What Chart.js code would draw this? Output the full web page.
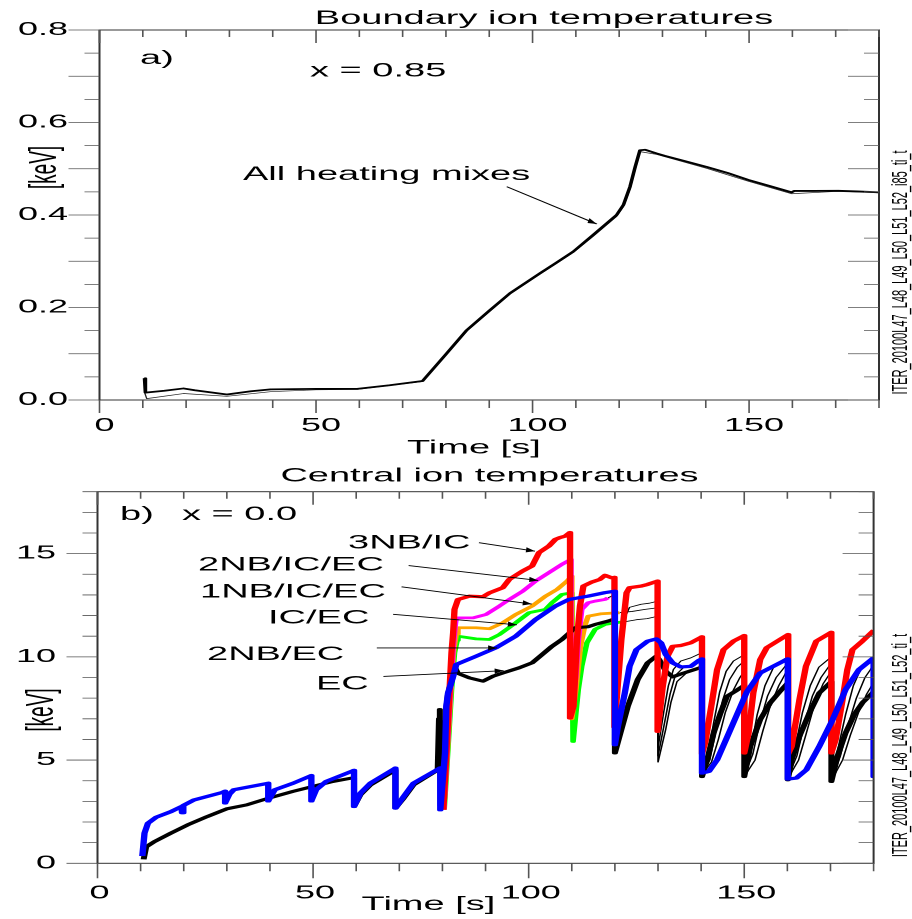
<!DOCTYPE html>
<html>
<head>
<meta charset="utf-8">
<title>Ion temperatures</title>
<script src="https://cdn.jsdelivr.net/npm/chart.js@4.4.1/dist/chart.umd.min.js"></script>
<style>
  html, body { margin: 0; padding: 0; background: #fff; overflow: hidden; }
  /* panels are laid out at half width and widened 2x, which gives the broad plotter lettering */
  #page { width: 456px; height: 919px; transform: scaleX(2); transform-origin: 0 0; }
  canvas { display: block; }
</style>
</head>
<body>
<div id="page">
  <canvas id="edgeChart" width="456" height="460"></canvas>
  <canvas id="coreChart" width="456" height="459"></canvas>
</div>
<script>
const FONT = "'Liberation Sans', Arial, Helvetica, sans-serif";
Chart.defaults.font.family = FONT;
Chart.defaults.color = "#000";

const timeLabels = [0, 50, 100, 150];

// a) boundary ion temperature, x = 0.85
const edgeYLabels = [0, 0.2, 0.4, 0.6, 0.8];
const edgeTime = [10.4, 10.6, 15, 19.4, 22, 29.4, 35, 39.5, 50, 59.5, 67, 74.6, 80, 84.8, 90, 94.8, 101.7, 105.5,
  109.4, 114.0, 119.4, 121.0, 122.5, 123.7, 124.8, 126, 128.7, 130.5, 135, 140.2, 145, 149.8, 155, 159.8, 160.4,
  165, 170.6, 175, 180];
const edgeTemp = [0.047, 0.016, 0.020, 0.025, 0.021, 0.012, 0.019, 0.023, 0.024, 0.024, 0.032, 0.041, 0.099, 0.151, 0.193, 0.231, 0.274, 0.297,
  0.321, 0.357, 0.400, 0.422, 0.461, 0.504, 0.540, 0.541, 0.533, 0.528, 0.517, 0.504, 0.491, 0.476, 0.462, 0.449, 0.452,
  0.452, 0.4525, 0.451, 0.449];
const edgeTimeAlt = [10.4, 10.5, 10.9, 19.4, 29.4, 39.5, 50, 59.5, 74.6, 80, 84.8, 90, 94.8, 101.7, 105.5, 109.4,
  114.0, 119.4, 121.0, 122.5, 123.7, 124.8, 128.7, 140.2, 149.8, 159.8, 170, 180];
const edgeTempAlt = [0.047, 0.014, 0.003, 0.014, 0.008, 0.018, 0.022, 0.023, 0.040, 0.098, 0.149, 0.191, 0.229, 0.272, 0.295, 0.319,
  0.354, 0.397, 0.419, 0.457, 0.500, 0.537, 0.531, 0.501, 0.473, 0.446, 0.451, 0.448];

// b) central ion temperature, x = 0.0
const coreYLabels = [0, 5, 10, 15];

// 2NB/EC
const nbEcTime = [10.4, 10.9, 11.7, 13.6, 17.0, 19.5, 19.6, 19.9, 22.4, 28.9,
  29.6, 29.6, 30.6, 31.6, 39.6, 39.6, 41.1, 45.4, 49.6, 49.6,
  50.7, 53.0, 59.5, 59.5, 61.0, 63.3, 69.1, 69.1, 71.0, 73.3,
  79.5, 79.5, 80.6, 80.9, 81.3, 82.5, 83.2, 87.8, 92.4, 97.0,
  101.6, 106.2, 109.3, 113.8, 117.7, 120.0, 120.0, 120.7, 122.3, 123.4,
  125.0, 127.6, 129.6, 130.7, 131.8, 133.4, 135.3, 137.6, 139.5, 140.2,
  140.2, 141.8, 143.7, 146.0, 148.3, 150.6, 153.7, 156.7, 160.1, 160.1,
  162.1, 164.4, 167.4, 170.5, 173.5, 176.6, 180.0, 180.0];
const nbEcTemp = [0.35, 1.46, 1.94, 2.23, 2.50, 2.75, 2.45, 2.80, 3.07, 3.43,
  3.49, 2.92, 3.35, 3.56, 3.88, 3.02, 3.56, 3.88, 4.25, 3.02,
  3.56, 3.96, 4.50, 2.75, 3.40, 3.88, 4.61, 2.67, 3.23, 3.88,
  4.62, 2.59, 5.34, 7.60, 8.25, 9.06, 9.63, 10.03, 10.44, 11.00,
  11.81, 12.46, 12.78, 12.94, 13.11, 13.18, 5.74, 6.63, 8.25, 9.54,
  10.35, 10.76, 10.87, 10.68, 10.11, 9.71, 9.51, 9.54, 9.83, 9.90,
  4.37, 4.45, 5.01, 6.10, 7.20, 8.30, 9.22, 9.54, 9.90, 4.08,
  4.13, 4.53, 5.66, 6.96, 8.41, 9.38, 9.95, 4.20];

// 3NB/IC
const nbIcTime = [80.2, 80.9, 81.7, 82.1, 82.5, 82.8, 83.6, 86.3, 89.4, 90.9,
  94.0, 95.5, 97.0, 98.6, 100.8, 102.4, 104.7, 106.2, 107.3, 108.5,
  109.6, 109.6, 110.4, 111.2, 111.9, 112.7, 114.6, 116.5, 117.7, 119.2,
  119.9, 119.9, 121.5, 122.7, 123.4, 126.1, 127.6, 129.9, 129.9, 131.1,
  132.2, 133.4, 135.3, 137.6, 140.2, 140.2, 141.0, 142.6, 143.7, 145.2,
  147.5, 150.0, 150.0, 151.0, 152.1, 153.7, 155.2, 158.3, 160.2, 160.2,
  161.0, 162.8, 164.3, 166.7, 170.2, 170.2, 171.2, 172.8, 173.9, 175.1,
  177.4, 180.1, 180.1];
const nbIcTemp = [2.59, 5.34, 8.57, 10.19, 11.2, 12.30, 12.78, 12.94, 12.91, 13.10,
  13.35, 13.75, 13.95, 14.16, 14.40, 15.05, 15.37, 15.69, 15.78, 15.85,
  16.02, 7.04, 7.6, 10.84, 12.46, 13.43, 13.62, 13.75, 13.95, 13.83,
  13.85, 6.6, 10.84, 13.10, 13.35, 13.43, 13.51, 13.67, 6.39, 8.57,
  10.03, 10.51, 10.55, 10.68, 10.97, 5.3, 5.9, 7.93, 9.38, 10.35,
  10.76, 11.03, 5.34, 6.31, 8.25, 9.87, 10.44, 10.84, 11.08, 5.3,
  5.66, 7.93, 9.54, 10.76, 11.19, 5.34, 5.99, 7.93, 9.38, 10.35,
  10.76, 11.29, 5.34];

// EC
const ecTime = [10.7, 11.3, 13.2, 17.0, 20.9, 25.4, 30.0, 34.6, 39.6, 45.3,
  49.9, 54.5, 59.5, 59.5, 61.0, 63.3, 69.1, 69.1, 71.0, 73.3,
  78.9, 79.2, 79.4, 79.6, 80.6, 80.9, 81.3, 82.3, 83.0, 83.6,
  86.3, 89.4, 91.7, 94.0, 97.8, 100.8, 103.1, 105.4, 107.7, 110.8,
  113.8, 115.4, 118.4, 120.0, 120.0, 121.5, 123.0, 125.3, 127.6, 129.6,
  130.3, 131.8, 133.4, 136.0, 140.2, 140.2, 141.4, 142.9, 144.5, 146.0,
  147.9, 150.0, 150.0, 151.4, 153.7, 156.0, 158.3, 160.1, 160.1, 161.0,
  162.8, 165.1, 167.4, 170.2, 170.2, 171.6, 173.5, 175.5, 177.5, 180.0];
const ecTemp = [0.19, 0.80, 1.05, 1.46, 1.86, 2.26, 2.64, 2.83, 3.15, 3.48,
  3.72, 3.96, 4.15, 2.75, 3.32, 3.80, 4.52, 2.67, 3.15, 3.80,
  4.52, 7.0, 7.45, 2.8, 5.3, 7.5, 8.2, 9.0, 9.45, 9.2,
  8.98, 8.82, 9.06, 9.22, 9.47, 9.71, 10.11, 10.51, 10.84, 11.41,
  11.46, 11.57, 11.73, 11.84, 5.34, 6.47, 7.60, 8.90, 9.71, 10.03,
  9.87, 9.30, 9.03, 9.22, 9.5, 4.2, 5.01, 6.31, 7.28, 8.09,
  8.33, 8.62, 4.2, 5.66, 6.96, 7.77, 8.33, 8.74, 4.04, 5.01,
  6.15, 7.28, 8.25, 8.8, 3.96, 5.17, 6.31, 7.2, 7.8, 8.3];

// 2NB/IC/EC
const nb2IcEcTime = [80.3, 81.0, 81.9, 82.5, 83.0, 83.2, 87.1, 90.1, 93.2, 95.5, 98.6, 101.6,
  104.7, 107.7, 109.8, 109.8, 110.9, 111.5, 112.3, 113.8, 115.4, 117.7, 118.4];
const nb2IcEcTemp = [2.6, 5.3, 8.6, 10.5, 11.6, 11.89, 11.89, 12.05, 12.46, 12.78, 13.18, 13.67,
  14.08, 14.48, 14.72, 7.2, 9.0, 10.8, 12.3, 12.62, 12.70, 12.78, 12.86];

// 1NB/IC/EC
const nb1IcEcTime = [80.3, 81.1, 82.0, 82.6, 83.2, 83.6, 87.8, 90.9, 94.0, 97.0, 100.8,
  103.9, 106.6, 108.9, 110.0, 110.0, 111.0, 112.0, 113.0, 113.8, 116.9, 121.1];
const nb1IcEcTemp = [2.6, 5.3, 8.6, 10.3, 11.1, 11.41, 11.41, 11.36, 11.65, 12.05, 12.46,
  12.94, 13.27, 13.67, 13.91, 7.0, 8.5, 10.5, 11.5, 11.97, 12.09, 12.14];

// IC/EC
const icEcTime = [80.4, 81.2, 82.1, 82.8, 83.4, 83.6, 87.8, 90.9, 93.2, 97.0, 100.1, 103.9,
  105.4, 107.7, 110.0, 110.3, 110.8, 111.5, 112.3, 113.5, 115.4, 117.7, 120.0, 122.3];
const icEcTemp = [2.6, 5.3, 8.4, 10.2, 10.8, 11.0, 10.87, 10.84, 11.08, 11.65, 12.14, 12.30,
  12.62, 13.02, 13.10, 5.9, 6.96, 8.41, 9.54, 10.68, 11.33, 11.57, 11.65, 11.70];

// remaining mixes after the coloured traces end (thin black)
const mixATime = [118.4, 119.9, 119.9, 121.0, 121.7, 122.5, 123.4, 126.1, 128.0, 130.0,
  130.0, 131.3, 132.4, 133.6, 135.3, 137.6, 140.2, 140.2, 141.6, 142.9,
  144.3, 145.8, 147.5, 150.0, 150.0, 151.6, 153.0, 154.8, 156.8, 158.5,
  160.1, 160.1, 161.8, 163.5, 165.3, 167.3, 170.2, 170.2, 171.8, 173.5,
  175.3, 177.4, 180.0];
const mixATemp = [12.86, 13.0, 6.0, 8.5, 10.5, 12.0, 12.4, 12.55, 12.6, 12.7,
  5.6, 7.3, 8.6, 9.4, 9.8, 9.95, 10.2, 4.5, 5.3, 6.8,
  8.3, 9.3, 9.8, 10.1, 4.3, 5.6, 7.2, 8.6, 9.5, 9.8,
  10.0, 4.2, 5.6, 7.3, 8.6, 9.5, 10.0, 4.0, 5.6, 7.2,
  8.6, 9.6, 10.0];
const mixBTime = [121.1, 124.0, 127.0, 130.0, 130.0, 131.6, 132.8, 134.0, 136.0, 138.0,
  140.2, 140.2, 142.0, 143.4, 145.0, 146.6, 148.4, 150.0, 150.0, 152.0,
  153.6, 155.4, 157.4, 160.1, 160.1, 162.2, 164.0, 165.8, 167.8, 170.2,
  170.2, 172.3, 174.1, 176.0, 178.0, 180.0];
const mixBTemp = [12.14, 12.2, 12.3, 12.38, 5.2, 6.9, 8.2, 9.1, 9.5, 9.6,
  9.9, 4.4, 5.0, 6.4, 7.9, 8.9, 9.5, 9.8, 4.25, 5.3,
  6.8, 8.1, 9.0, 9.7, 4.15, 5.2, 6.8, 8.1, 9.0, 9.7,
  4.0, 5.2, 6.7, 8.0, 9.0, 9.6];
const mixCTime = [122.3, 125.0, 127.5, 130.0, 130.0, 131.8, 133.0, 134.4, 136.5, 138.5,
  140.2, 140.2, 142.4, 144.0, 145.6, 147.5, 149.0, 150.0, 150.0, 152.5,
  154.3, 156.0, 158.0, 160.1, 160.1, 162.6, 164.4, 166.3, 168.3, 170.2,
  170.2, 172.8, 174.6, 176.5, 178.4, 180.0];
const mixCTemp = [11.70, 11.8, 11.85, 11.97, 4.9, 6.5, 7.8, 8.8, 9.2, 9.4,
  9.6, 4.3, 4.9, 6.0, 7.3, 8.4, 9.0, 9.3, 4.2, 5.0,
  6.4, 7.6, 8.6, 9.4, 4.1, 5.0, 6.3, 7.7, 8.7, 9.3,
  4.0, 5.0, 6.2, 7.3, 8.2, 8.75];

function pts(xs, ys) {
  return xs.map((x, i) => ({ x, y: ys[i] }));
}

function trace(label, xs, ys, color, width) {
  return {
    label, data: pts(xs, ys), borderColor: color, borderWidth: width,
    pointRadius: 0, tension: 0, fill: false, borderJoinStyle: "round"
  };
}

function onStep(v, step) {
  return Math.abs(v / step - Math.round(v / step)) < 1e-6;
}

function drawText(ctx, s, x, y, size, align) {
  ctx.font = size + "px " + FONT;
  ctx.textAlign = align || "left";
  ctx.textBaseline = "alphabetic";
  ctx.fillText(s, x, y);
}

// text turned to read bottom-to-top, centred on cy
function drawUpright(ctx, s, cx, cy, size, baseline) {
  ctx.save();
  ctx.translate(cx, cy);
  ctx.rotate(-Math.PI / 2);
  ctx.font = size + "px " + FONT;
  ctx.textAlign = "center";
  ctx.textBaseline = baseline || "middle";
  ctx.fillText(s, 0, 0);
  ctx.restore();
}

// arrow in data units; the head is shaped in page space (x doubled)
function drawArrow(ctx, xs, ys, from, to) {
  const x0 = xs.getPixelForValue(from[0]), y0 = ys.getPixelForValue(from[1]);
  const x1 = xs.getPixelForValue(to[0]), y1 = ys.getPixelForValue(to[1]);
  const dx = (x1 - x0) * 2, dy = y1 - y0, len = Math.hypot(dx, dy);
  const ux = dx / len, uy = dy / len, hl = 9, hw = 2.6;
  const bx = x1 * 2 - ux * hl, by = y1 - uy * hl;
  ctx.beginPath();
  ctx.moveTo(x0, y0);
  ctx.lineTo(x1, y1);
  ctx.stroke();
  ctx.beginPath();
  ctx.moveTo(x1, y1);
  ctx.lineTo((bx - uy * hw) / 2, by + ux * hw);
  ctx.lineTo((bx + uy * hw) / 2, by - ux * hw);
  ctx.closePath();
  ctx.fill();
}

// frame, tick marks (all pointing left / down), titles and notes
function panelDecor(spec) {
  return {
    id: "panelDecor",
    afterDatasetsDraw(chart) {
      const { ctx, chartArea: a, scales: { x, y } } = chart;
      ctx.save();
      ctx.strokeStyle = "#333";
      ctx.lineWidth = 1;
      ctx.strokeRect(a.left, a.top, a.right - a.left, a.bottom - a.top);

      ctx.strokeStyle = "#555";
      ctx.lineWidth = 0.8;
      ctx.beginPath();
      x.ticks.forEach(t => {
        const px = x.getPixelForValue(t.value);
        const major = onStep(t.value, 50);
        ctx.moveTo(px, a.bottom);
        ctx.lineTo(px, a.bottom + (major ? spec.bottomMajor : 8));
        ctx.moveTo(px, a.top);
        ctx.lineTo(px, a.top + (major ? 13 : 7));
      });
      y.ticks.forEach(t => {
        const py = y.getPixelForValue(t.value);
        const len = onStep(t.value, spec.yMajorStep) ? 15.5 : 7.5;
        ctx.moveTo(a.left, py);
        ctx.lineTo(a.left - len, py);
        ctx.moveTo(a.right, py);
        ctx.lineTo(a.right - len, py);
      });
      ctx.stroke();

      ctx.fillStyle = "#000";
      drawText(ctx, spec.title, spec.titleX, spec.titleY, 19, "center");
      spec.notes.forEach(n => drawText(ctx, n.text, n.x, n.y, 19));
      drawText(ctx, "Time [s]", spec.timeX, spec.timeY, 19);
      drawUpright(ctx, "[keV]", spec.unitX, spec.unitY, 19);
      drawUpright(ctx, spec.runId, 453.5, spec.runY, 11, "alphabetic");

      ctx.strokeStyle = "#000";
      ctx.lineWidth = 0.9;
      spec.arrows.forEach(ar => drawArrow(ctx, x, y, ar[0], ar[1]));
      ctx.restore();
    }
  };
}

function axes(cfg) {
  return {
    x: {
      type: "linear", min: 0, max: 180,
      afterFit: s => { s.height = cfg.xHeight; },
      grid: { display: false, drawTicks: false }, border: { display: false },
      ticks: {
        stepSize: 10, autoSkip: false, maxRotation: 0, maxTicksLimit: 100,
        padding: cfg.xPad, labelOffset: cfg.xOffset, font: { size: 18 },
        callback: v => (timeLabels.includes(v) ? String(v) : "")
      }
    },
    y: {
      type: "linear", min: 0, max: cfg.yMax,
      afterFit: s => { s.width = cfg.yWidth; },
      grid: { display: false, drawTicks: false }, border: { display: false },
      ticks: {
        stepSize: cfg.yStep, autoSkip: false, maxTicksLimit: 100,
        padding: cfg.yPad, font: { size: 18 },
        callback: v => (cfg.yLabels.some(l => Math.abs(l - v) < 1e-9) ? cfg.yFormat(v) : "")
      }
    }
  };
}

const common = {
  responsive: false,
  devicePixelRatio: 2,
  animation: false,
  events: [],
  plugins: { legend: { display: false }, tooltip: { enabled: false }, title: { display: false } }
};

new Chart(document.getElementById("edgeChart"), {
  type: "line",
  data: {
    datasets: [
      trace("All heating mixes", edgeTime, edgeTemp, "#000", 1.8),
      trace("All heating mixes (alt)", edgeTimeAlt, edgeTempAlt, "#222", 0.7)
    ]
  },
  options: Object.assign({}, common, {
    layout: { padding: { top: 30, right: 16.5, left: 0, bottom: 0 } },
    scales: axes({ xHeight: 60, xPad: 15.2, xOffset: 2.5, yMax: 0.8, yStep: 0.05, yWidth: 49.75, yPad: 15.75,
                   yLabels: edgeYLabels, yFormat: v => v.toFixed(1) })
  }),
  plugins: [panelDecor({
    title: "Boundary ion temperatures", titleX: 272, titleY: 24,
    yMajorStep: 0.1, bottomMajor: 13,
    notes: [
      { text: "a)", x: 70, y: 64 },
      { text: "x = 0.85", x: 155, y: 76.7 },
      { text: "All heating mixes", x: 121.5, y: 180 }
    ],
    arrows: [[[94.04, 0.4612], [114.83, 0.3805]]],
    timeX: 203.5, timeY: 453.3, unitX: 22.75, unitY: 167.5,
    runId: "ITER_20100L47_L48_L49_L50_L51_L52_i85_ti_t", runY: 272.5
  })]
});

new Chart(document.getElementById("coreChart"), {
  type: "line",
  data: {
    datasets: [
      trace("2NB/EC", nbEcTime, nbEcTemp, "#0000ff", 3.2),
      trace("3NB/IC", nbIcTime, nbIcTemp, "#ff0000", 3.2),
      trace("EC", ecTime, ecTemp, "#000", 3),
      trace("2NB/IC/EC", nb2IcEcTime, nb2IcEcTemp, "#ff00ff", 2.8),
      trace("1NB/IC/EC", nb1IcEcTime, nb1IcEcTemp, "#ffa500", 2.8),
      trace("IC/EC", icEcTime, icEcTemp, "#00ff00", 2.8),
      trace("mix A", mixATime, mixATemp, "#000", 0.8),
      trace("mix B", mixBTime, mixBTemp, "#000", 0.8),
      trace("mix C", mixCTime, mixCTemp, "#000", 0.8)
    ]
  },
  options: Object.assign({}, common, {
    layout: { padding: { top: 31.7, right: 14.75, left: 0, bottom: 0 } },
    scales: axes({ xHeight: 55.7, xPad: 19.2, xOffset: 1, yMax: 18, yStep: 1, yWidth: 48.75, yPad: 20.75,
                   yLabels: coreYLabels, yFormat: v => String(v) })
  }),
  plugins: [panelDecor({
    title: "Central ion temperatures", titleX: 244.75, titleY: 21.7,
    yMajorStep: 5, bottomMajor: 15,
    notes: [
      { text: "b)", x: 60, y: 60 },
      { text: "x = 0.0", x: 91, y: 60 },
      { text: "3NB/IC", x: 174, y: 88.3 },
      { text: "2NB/IC/EC", x: 99, y: 110.7 },
      { text: "1NB/IC/EC", x: 100, y: 137.3 },
      { text: "IC/EC", x: 134, y: 163.3 },
      { text: "2NB/EC", x: 103.5, y: 200 },
      { text: "EC", x: 158, y: 229.3 }
    ],
    arrows: [
      [[88.47, 15.53], [101.47, 15.12]],
      [[72.16, 14.42], [102.22, 13.70]],
      [[70.51, 13.39], [100.71, 12.56]],
      [[68.56, 12.06], [97.27, 11.55]],
      [[64.78, 10.43], [92.69, 10.43]],
      [[66.31, 9.05], [94.2, 9.33]]
    ],
    timeX: 180.8, timeY: 450, unitX: 21.25, unitY: 250,
    runId: "ITER_20100L47_L48_L49_L50_L51_L52_ti_t", runY: 285.5
  })]
});
</script>
</body>
</html>
